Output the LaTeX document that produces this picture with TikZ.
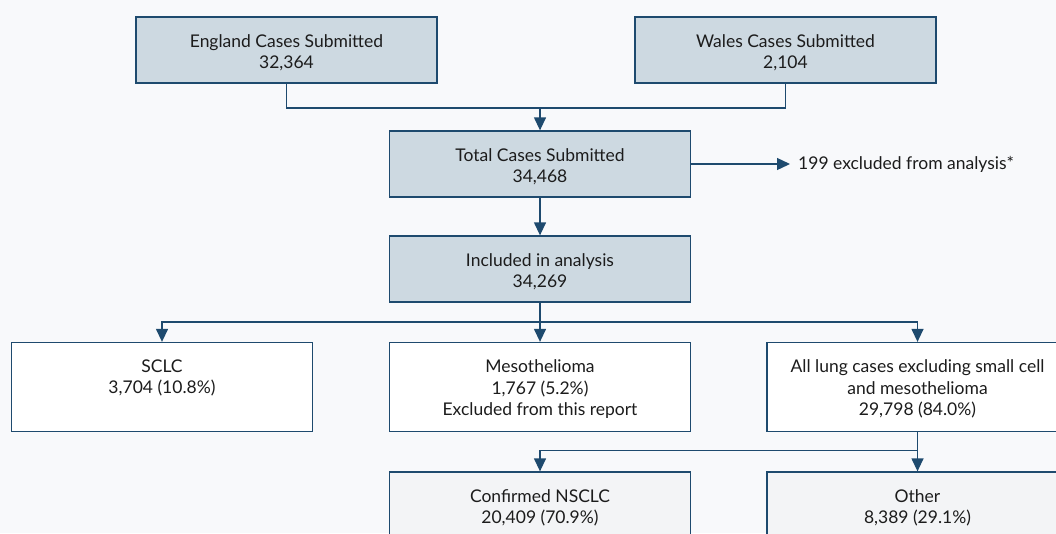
\documentclass[tikz,border=0pt]{standalone}
\usepackage{fontspec}
\setmainfont{Lato}
\usetikzlibrary{arrows.meta}
\definecolor{bgc}{HTML}{F8F9FB}
\definecolor{bluefill}{HTML}{CDD9E1}
\definecolor{greyfill}{HTML}{F3F4F6}
\definecolor{navy}{HTML}{1E4A6E}
\definecolor{txt}{HTML}{1C1C1C}
\begin{document}
\begin{tikzpicture}[x=1pt,y=-1pt,
  box/.style={draw=navy, line width=1.3pt, rectangle, inner sep=0pt, minimum width=#1},
  box/.default=301pt,
  lbl/.style={anchor=north, inner sep=0pt, align=center, text=txt, font=\fontsize{17.5}{21.2}\selectfont, yshift=-18pt},
  conn/.style={draw=navy, line width=1.3pt},
  arr/.style={conn, -{Triangle[width=12pt,length=13pt]}},
  font=\fontsize{17.5}{21.2}\selectfont]
\useasboundingbox (0,0) rectangle (1056,533);
\fill[bgc] (0,0) rectangle (1056,533);
\clip (0,0) rectangle (1056,533);
% boxes
\node[box, fill=bluefill, minimum height=66pt] (eng) at (286.5,50) {};
\node[box, fill=bluefill, minimum height=66pt] (wal) at (785.5,50) {};
\node[box, fill=bluefill, minimum height=66pt] (tot) at (540,164) {};
\node[box, fill=bluefill, minimum height=66pt] (inc) at (540,269) {};
\node[box, fill=white, minimum height=89pt] (sclc) at (162,387) {};
\node[box, fill=white, minimum height=89pt] (meso) at (540,387) {};
\node[box, fill=white, minimum height=89pt] (all) at (917.5,387) {};
\node[box, fill=greyfill, minimum height=89pt] (nsclc) at (540,516.5) {};
\node[box, fill=greyfill, minimum height=89pt] (oth) at (917.5,516.5) {};
% labels
\node[lbl] (engt) at (eng.north) {England Cases Submitted\\32,364};
\node[lbl] (walt) at (wal.north) {Wales Cases Submitted\\2,104};
\node[lbl] (tott) at (tot.north) {Total Cases Submitted\\34,468};
\node[lbl] (inct) at (inc.north) {Included in analysis\\34,269};
\node[lbl] (sclct) at (sclc.north) {SCLC\\3,704 (10.8\%)};
\node[lbl] (mesot) at (meso.north) {Mesothelioma\\1,767 (5.2\%)\\Excluded from this report};
\node[lbl] (allt) at (all.north) {All lung cases excluding small cell\\and mesothelioma\\29,798 (84.0\%)};
\node[lbl] (nsclct) at (nsclc.north) {Confirmed NSCLC\\20,409 (70.9\%)};
\node[lbl] (otht) at (oth.north) {Other\\8,389 (29.1\%)};
\node[anchor=west, inner sep=0pt, text=txt] (excl) at (798,164) {199 excluded from analysis*};
% connectors
\coordinate (j1) at (540,108);
\draw[conn] (eng.south) |- (j1) -| (wal.south);
\draw[arr] (j1) -- (tot.north);
\draw[arr, shorten >=8pt] (tot.east) -- (excl.west);
\draw[arr] (tot.south) -- (inc.north);
\coordinate (j2) at (540,322);
\draw[conn] (inc.south) -- (j2);
\draw[arr] (j2) -| (sclc.north);
\draw[arr] (j2) -- (meso.north);
\draw[arr] (j2) -| (all.north);
\coordinate (j3) at (917.5,450.5);
\draw[arr] (all.south) -- (oth.north);
\draw[arr] (j3) -| (nsclc.north);
\end{tikzpicture}
\end{document}
